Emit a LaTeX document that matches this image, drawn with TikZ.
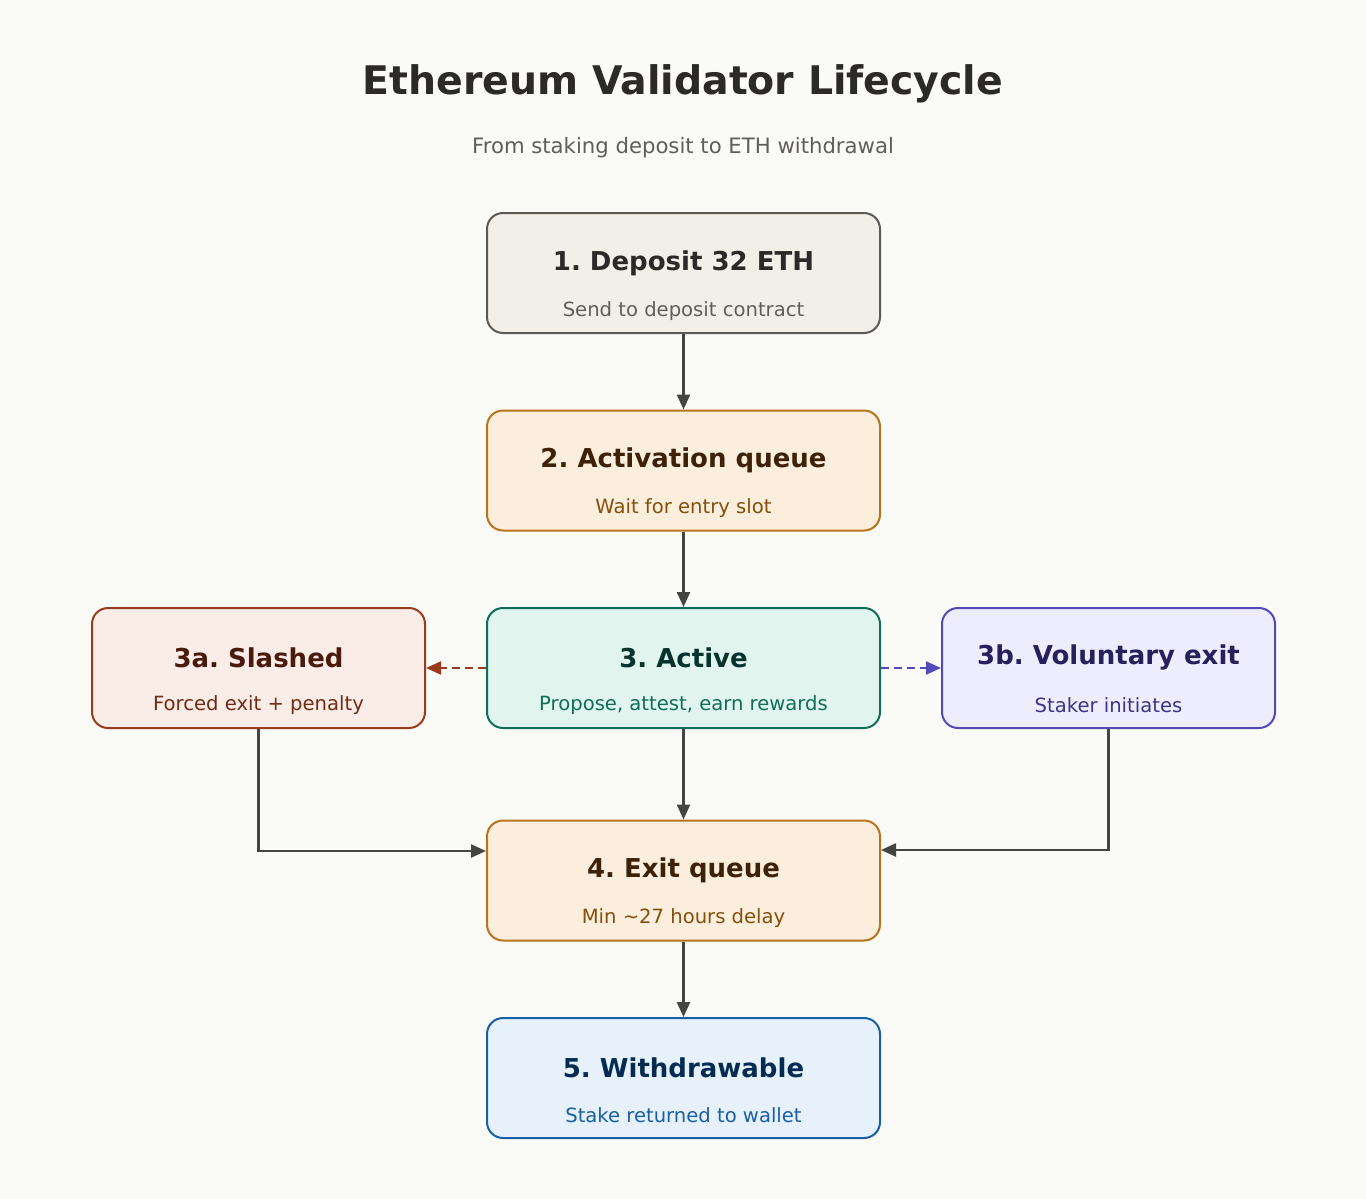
\documentclass[tikz,border=0pt]{standalone}
\usepackage{fontspec}
\setmainfont{DejaVu Sans}
\usetikzlibrary{arrows.meta}
\frenchspacing
\definecolor{bgc}{HTML}{FAFAF7}
\definecolor{arrc}{HTML}{444441}
\definecolor{gF}{HTML}{F2EFE9}\definecolor{gD}{HTML}{5C5A57}\definecolor{gT}{HTML}{2B2A28}\definecolor{gS}{HTML}{5F5E5A}
\definecolor{oF}{HTML}{FBEEDC}\definecolor{oD}{HTML}{B8741A}\definecolor{oT}{HTML}{3D2208}\definecolor{oS}{HTML}{854F0B}
\definecolor{tF}{HTML}{E1F5EE}\definecolor{tD}{HTML}{0F6E56}\definecolor{tT}{HTML}{04342C}\definecolor{tS}{HTML}{0F6E56}
\definecolor{rF}{HTML}{FAECE7}\definecolor{rD}{HTML}{993C1D}\definecolor{rT}{HTML}{4A1B0C}\definecolor{rS}{HTML}{712B13}
\definecolor{pF}{HTML}{EEEDFE}\definecolor{pD}{HTML}{534AB7}\definecolor{pT}{HTML}{26215C}\definecolor{pS}{HTML}{3C3489}
\definecolor{bF}{HTML}{E6F1FB}\definecolor{bD}{HTML}{185FA5}\definecolor{bT}{HTML}{042C53}\definecolor{bS}{HTML}{185FA5}
\tikzset{
  box/.style={draw, line width=1pt, rounded corners=8pt, minimum width=196.5pt, minimum height=60pt, inner sep=0pt},
  sidebox/.style={box, minimum width=166.5pt},
  ttl/.style={anchor=base, inner sep=0pt, font=\fontsize{13}{15}\selectfont\bfseries},
  sub/.style={anchor=base, inner sep=0pt, font=\fontsize{9.8}{11}\selectfont},
  arr/.style={draw=arrc, line width=1.2pt, -{Triangle[length=7.5pt,width=6.5pt]}},
  darr/.style={line width=1.1pt, dash pattern=on 4pt off 2.5pt}
}
\begin{document}
\begin{tikzpicture}[x=0.5pt,y=-0.5pt]
\fill[bgc] (0,0) rectangle (1366,1199);
\useasboundingbox (0,0) rectangle (1366,1199);

\node[anchor=base, inner sep=0pt, text=gT, font=\fontsize{19.7}{23}\selectfont\bfseries] (title) at (683,94) {Ethereum Validator Lifecycle};
\node[anchor=base, inner sep=0pt, text=gS, font=\fontsize{10.6}{12}\selectfont] (subtitle) at (683,153) {From staking deposit to ETH withdrawal};

% boxes
\node[box, fill=gF, draw=gD] (b1) at (683.5,273) {};
\node[box, fill=oF, draw=oD] (b2) at (683.5,470.5) {};
\node[box, fill=tF, draw=tD] (b3) at (683.5,668) {};
\node[sidebox, fill=rF, draw=rD] (b3a) at (258.5,668) {};
\node[sidebox, fill=pF, draw=pD] (b3b) at (1108.5,668) {};
\node[box, fill=oF, draw=oD] (b4) at (683.5,880.5) {};
\node[box, fill=bF, draw=bD] (b5) at (683.5,1078) {};

% texts
\node[ttl, text=gT] (b1t) at (683.5,270) {1. Deposit 32 ETH};
\node[sub, text=gS] (b1s) at (683.5,316) {Send to deposit contract};
\node[ttl, text=oT] (b2t) at (683.5,467.5) {2. Activation queue};
\node[sub, text=oS] (b2s) at (683.5,513.5) {Wait for entry slot};
\node[ttl, text=tT] (b3t) at (683.5,667) {3. Active};
\node[sub, text=tS] (b3s) at (683.5,710.5) {Propose, attest, earn rewards};
\node[ttl, text=rT] (b3at) at (258.5,667) {3a. Slashed};
\node[sub, text=rS] (b3as) at (258.5,710.5) {Forced exit + penalty};
\node[ttl, text=pT] (b3bt) at (1108.5,664) {3b. Voluntary exit};
\node[sub, text=pS] (b3bs) at (1108.5,712.5) {Staker initiates};
\node[ttl, text=oT] (b4t) at (683.5,877) {4. Exit queue};
\node[sub, text=oS] (b4s) at (683.5,923) {Min \textasciitilde27 hours delay};
\node[ttl, text=bT] (b5t) at (683.5,1077) {5. Withdrawable};
\node[sub, text=bS] (b5s) at (683.5,1122) {Stake returned to wallet};

% connectors
\draw[arr] (b1) -- (b2);
\draw[arr] (b2) -- (b3);
\draw[arr] (b3) -- (b4);
\draw[arr] (b4) -- (b5);
\draw[darr, draw=rD, -{Triangle[length=7.5pt,width=6.5pt,fill=rD,color=rD]}] (b3.west) -- (b3a.east);
\draw[darr, draw=pD, -{Triangle[length=7.5pt,width=6.5pt,fill=pD,color=pD]}] (b3.east) -- (b3b.west);
\draw[arr] (b3a.south) |- ([yshift=14.75pt]b4.west);
\draw[arr] (b3b.south) |- ([yshift=15.25pt]b4.east);
\end{tikzpicture}
\end{document}
